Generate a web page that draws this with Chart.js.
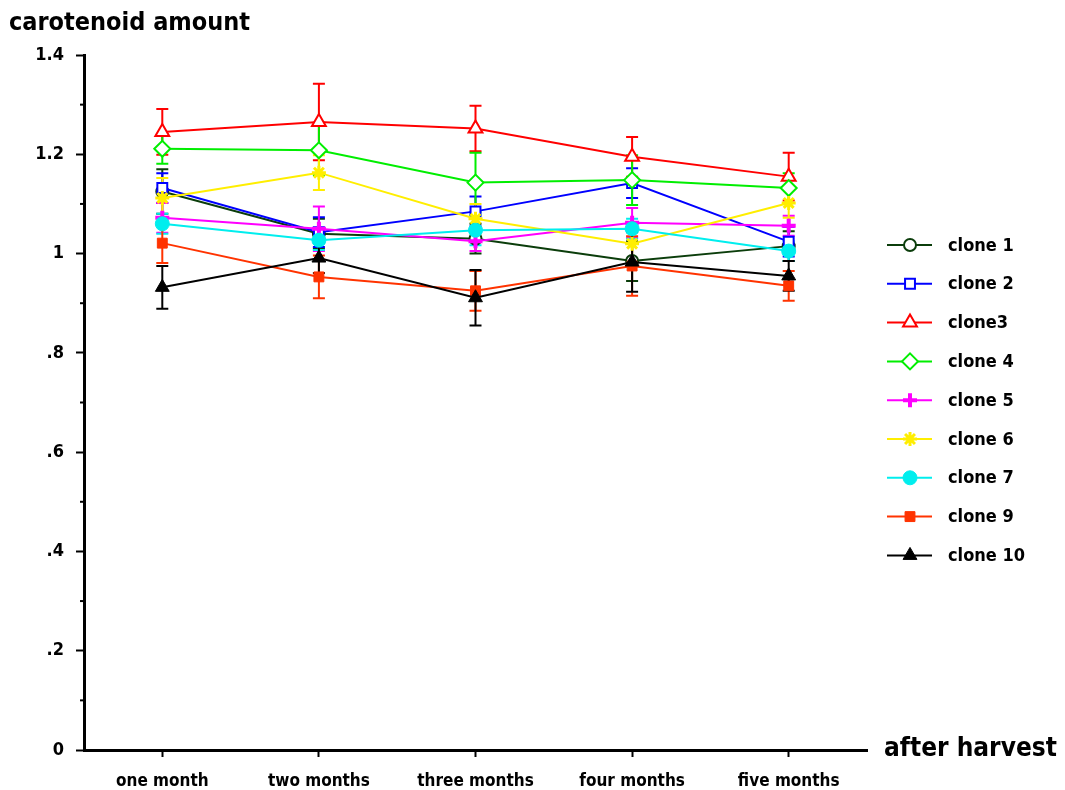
<!DOCTYPE html>
<html>
<head>
<meta charset="utf-8">
<style>
  html, body { margin: 0; padding: 0; background: #fff; }
  #wrap { width: 1065px; height: 790px; position: relative; }
</style>
<script src="https://cdn.jsdelivr.net/npm/chart.js@4.4.1/dist/chart.umd.min.js"></script>
</head>
<body>
<div id="wrap"><canvas id="chart" width="1065" height="790"></canvas></div>
<script>
// months after harvest
const months = ['one month', 'two months', 'three months', 'four months', 'five months'];

// carotenoid amount per clone
const clone1 = [1.125, 1.040, 1.030, 0.985, 1.015];
const clone2 = [1.132, 1.043, 1.085, 1.142, 1.024];
const clone3 = [1.245, 1.265, 1.252, 1.195, 1.155];
const clone4 = [1.211, 1.208, 1.143, 1.148, 1.132];
const clone5 = [1.072, 1.050, 1.025, 1.062, 1.056];
const clone6 = [1.112, 1.163, 1.070, 1.020, 1.102];
const clone7 = [1.060, 1.027, 1.047, 1.050, 1.005];
const clone9 = [1.021, 0.953, 0.925, 0.975, 0.935];
const clone10 = [0.932, 0.991, 0.911, 0.983, 0.955];

// error bar half-widths
const err1 = [0.045, 0.030, 0.030, 0.040, 0.030];
const err2 = [0.030, 0.030, 0.030, 0.030, 0.030];
const err3 = [0.046, 0.077, 0.046, 0.040, 0.048];
const err4 = [0.030, 0.050, 0.060, 0.050, 0.030];
const err5 = [0.030, 0.045, 0.020, 0.030, 0.020];
const err6 = [0.040, 0.035, 0.030, 0.040, 0.030];
const err7 = [0.020, 0.020, 0.030, 0.020, 0.020];
const err9 = [0.040, 0.043, 0.040, 0.060, 0.030];
const err10 = [0.043, 0.030, 0.056, 0.060, 0.030];

const yTicks = [0, 0.2, 0.4, 0.6, 0.8, 1, 1.2, 1.4];

const FONT = '"DejaVu Sans Condensed", "DejaVu Sans", sans-serif';

function series(label, data, err, color, style, filled, radius, bw) {
  return {
    label: label,
    data: data,
    errors: err,
    borderColor: color,
    backgroundColor: color,
    borderWidth: 2,
    pointStyle: style,
    pointRadius: radius,
    pointHoverRadius: radius,
    pointBorderWidth: bw,
    pointBorderColor: color,
    pointBackgroundColor: filled ? color : '#ffffff',
    tension: 0,
    fill: false
  };
}

const datasets = [
  series('clone 1', clone1, err1, '#0b3d0b', 'circle', false, 6, 2),
  series('clone 2', clone2, err2, '#0000ff', 'rect', false, 7, 2),
  series('clone3', clone3, err3, '#ff0000', 'triangle', false, 8, 2),
  series('clone 4', clone4, err4, '#00ee00', 'rectRot', false, 8, 2),
  series('clone 5', clone5, err5, '#ff00ff', 'cross', true, 7, 4),
  series('clone 6', clone6, err6, '#ffee00', 'star', true, 7, 3),
  series('clone 7', clone7, err7, '#00eeee', 'circle', true, 7, 1),
  series('clone 9', clone9, err9, '#ff3300', 'rect', true, 7, 1),
  series('clone 10', clone10, err10, '#000000', 'triangle', true, 8, 1)
];
// later clones drawn on top
datasets.forEach((d, i) => { d.order = datasets.length - i; });

function drawMarker(ctx, ds, x, y) {
  ctx.fillStyle = ds.pointBackgroundColor;
  ctx.strokeStyle = ds.borderColor;
  ctx.lineWidth = ds.pointBorderWidth;
  Chart.helpers.drawPoint(ctx, {
    pointStyle: ds.pointStyle,
    radius: ds.pointRadius,
    rotation: 0,
    borderWidth: ds.pointBorderWidth
  }, x, y);
}

const extras = {
  id: 'extras',
  beforeDatasetsDraw(chart) {
    const ctx = chart.ctx;
    const x = chart.scales.x, y = chart.scales.y;
    // error bars
    chart.data.datasets.forEach((ds) => {
      ctx.save();
      ctx.strokeStyle = ds.borderColor;
      ctx.lineWidth = 2;
      ds.data.forEach((v, i) => {
        const px = x.getPixelForValue(i);
        const top = y.getPixelForValue(v + ds.errors[i]);
        const bot = y.getPixelForValue(v - ds.errors[i]);
        ctx.beginPath();
        ctx.moveTo(px, top); ctx.lineTo(px, bot);
        ctx.moveTo(px - 6, top); ctx.lineTo(px + 6, top);
        ctx.moveTo(px - 6, bot); ctx.lineTo(px + 6, bot);
        ctx.stroke();
      });
      ctx.restore();
    });
  },
  afterDraw(chart) {
    const ctx = chart.ctx;
    const y = chart.scales.y;
    const left = chart.chartArea.left;
    ctx.save();
    // minor ticks on the value axis
    ctx.strokeStyle = '#000';
    ctx.lineWidth = 2;
    for (let k = 1; k < 14; k += 2) {
      const py = y.getPixelForValue(k / 10);
      ctx.beginPath();
      ctx.moveTo(left - 4, py); ctx.lineTo(left, py);
      ctx.stroke();
    }
    // axis titles
    ctx.fillStyle = '#000';
    ctx.textBaseline = 'middle';
    ctx.textAlign = 'left';
    ctx.font = 'bold 25px ' + FONT;
    ctx.fillText('carotenoid amount', 9, 23);
    ctx.font = 'bold 26px ' + FONT;
    ctx.fillText('after harvest', 884, 749);
    // legend
    chart.data.datasets.forEach((ds, i) => {
      const ly = 245 + i * 38.8;
      ctx.strokeStyle = ds.borderColor;
      ctx.lineWidth = 2;
      ctx.beginPath();
      ctx.moveTo(887, ly); ctx.lineTo(932, ly);
      ctx.stroke();
      drawMarker(ctx, ds, 910, ly);
      ctx.fillStyle = '#000';
      ctx.font = 'bold 18px ' + FONT;
      ctx.fillText(ds.label, 948, ly + 1);
    });
    ctx.restore();
  }
};

new Chart(document.getElementById('chart'), {
  type: 'line',
  data: { labels: months, datasets: datasets },
  plugins: [extras],
  options: {
    responsive: false,
    animation: false,
    layout: { padding: { top: 55, right: 198, left: 0, bottom: 0 } },
    plugins: {
      legend: { display: false },
      tooltip: { enabled: false },
      title: { display: false }
    },
    scales: {
      x: {
        offset: true,
        grid: {
          offset: false,
          drawOnChartArea: false,
          tickLength: 7,
          tickColor: '#000',
          tickWidth: 2
        },
        border: { color: '#000', width: 3 },
        ticks: {
          color: '#000',
          padding: 14,
          maxRotation: 0,
          font: { family: FONT, size: 17, weight: 'bold' }
        },
        afterFit(scale) { scale.height = 40; }
      },
      y: {
        min: 0,
        max: 1.4,
        afterBuildTicks(scale) {
          scale.ticks = yTicks.map((v) => ({ value: v }));
        },
        grid: {
          drawOnChartArea: false,
          tickLength: 8,
          tickColor: '#000',
          tickWidth: 2
        },
        border: { color: '#000', width: 3 },
        ticks: {
          color: '#000',
          padding: 12,
          font: { family: FONT, size: 18, weight: 'bold' },
          callback(v) {
            if (v === 0) return '0';
            return String(Math.round(v * 10) / 10).replace(/^0\./, '.');
          }
        },
        afterFit(scale) { scale.width = 84; }
      }
    }
  }
});
</script>
</body>
</html>
